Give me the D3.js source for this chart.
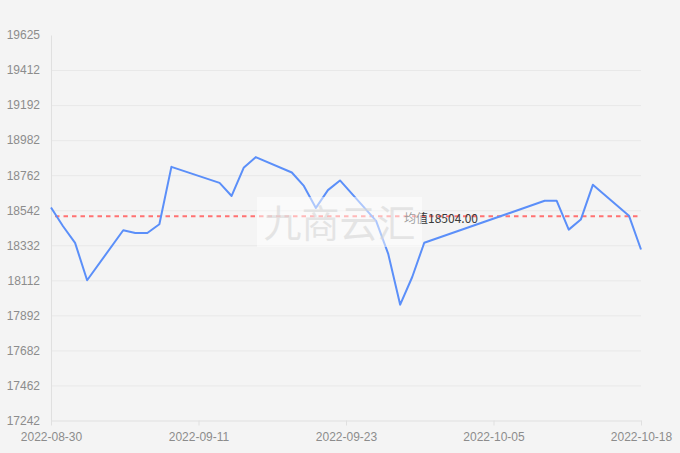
<!DOCTYPE html>
<html>
<head>
<meta charset="utf-8">
<script src="https://cdn.jsdelivr.net/npm/d3@7"></script>
<style>
  html, body { margin: 0; padding: 0; background: #f4f4f4; }
  svg { display: block; font-family: "Noto Sans", "Noto Sans CJK SC", sans-serif; }
</style>
</head>
<body>
<svg id="chart" width="680" height="453"></svg>
<script>
const dates = ["2022-08-30","2022-08-31","2022-09-01","2022-09-02","2022-09-05","2022-09-06","2022-09-07","2022-09-08","2022-09-09",
  "2022-09-13","2022-09-14","2022-09-15","2022-09-16","2022-09-19","2022-09-20","2022-09-21","2022-09-22","2022-09-23",
  "2022-09-26","2022-09-27","2022-09-28","2022-09-29","2022-09-30","2022-10-10","2022-10-11","2022-10-12","2022-10-13",
  "2022-10-14","2022-10-17","2022-10-18"];
const values = [18559,18443,18340,18109,18418,18401,18401,18455,18810,
  18711,18630,18804,18870,18775,18692,18556,18666,18726,
  18476,18274,17958,18129,18341,18600,18600,18422,18484,
  18699,18508,18299];
const meanValue = 18504;
const meanLabel = "均值18504.00";
const yDomain = [17242, 19625];
const yTickLabels = ["17242","17462","17682","17892","18112","18332","18542","18762","18982","19192","19412","19625"];
const xDomain = ["2022-08-30","2022-10-18"];
const xTickLabels = ["2022-08-30","2022-09-11","2022-09-23","2022-10-05","2022-10-18"];
const watermark = "九商云汇";

const parse = d3.timeParse("%Y-%m-%d");
const svg = d3.select("#chart");
const L = 51, R = 641, T = 35, B = 420.5;

const x = d3.scaleTime().domain(xDomain.map(parse)).range([L, R]);
const y = d3.scaleLinear().domain(yDomain).range([B, T]);

const yTicks = yTickLabels.map((_, i) => yDomain[0] + (yDomain[1] - yDomain[0]) * i / (yTickLabels.length - 1));
const xd = x.domain();
const xTicks = xTickLabels.map((_, i) => new Date(+xd[0] + (xd[1] - xd[0]) * i / (xTickLabels.length - 1)));

svg.append("rect").attr("width", 680).attr("height", 453).attr("fill", "#f4f4f4");

// grid lines
const grid = svg.append("g").attr("transform", `translate(${L},0)`)
  .call(d3.axisLeft(y).tickValues(yTicks.slice(1, -1)).tickSize(-(R - L)).tickFormat(""));
grid.select(".domain").remove();
grid.selectAll("line").attr("stroke", "#e8e8e8").attr("stroke-width", 1);

// y axis
const ya = svg.append("g").attr("transform", `translate(${L},0)`)
  .call(d3.axisLeft(y).tickValues(yTicks).tickSize(0).tickPadding(11)
    .tickFormat((d, i) => yTickLabels[i]));
ya.select(".domain").attr("stroke", "#e0e0e0");
ya.selectAll("text").attr("fill", "#8c8c8c").style("font-size", "12px");

// x axis
const xa = svg.append("g").attr("transform", `translate(0,${B})`)
  .call(d3.axisBottom(x).tickValues(xTicks).tickSize(5).tickSizeOuter(0).tickPadding(7)
    .tickFormat((d, i) => xTickLabels[i]));
xa.select(".domain").attr("stroke", "#e0e0e0");
xa.selectAll("line").attr("stroke", "#e0e0e0");
xa.selectAll("text").attr("fill", "#8c8c8c").style("font-size", "12px");

// mean line
svg.append("line")
  .attr("x1", L).attr("x2", R)
  .attr("y1", y(meanValue)).attr("y2", y(meanValue))
  .attr("stroke", "#ff7272").attr("stroke-width", 2)
  .attr("stroke-dasharray", "4.5,4").attr("stroke-dashoffset", 4.5);

// data line
const data = dates.map((d, i) => ({ date: parse(d), value: values[i] }));
svg.append("path").datum(data)
  .attr("fill", "none").attr("stroke", "#5b8ff9").attr("stroke-width", 2)
  .attr("stroke-linejoin", "round")
  .attr("d", d3.line().x(d => x(d.date)).y(d => y(d.value)));

// mean label
svg.append("text")
  .attr("x", 404).attr("y", y(meanValue) + 7)
  .attr("fill", "#3a3a3a").style("font-size", "12px")
  .style("font-family", "'Noto Sans CJK SC', 'Noto Sans', sans-serif")
  .text(meanLabel);

// watermark
const wm = svg.append("g");
wm.append("rect").attr("x", 257).attr("y", 197).attr("width", 165).attr("height", 50)
  .attr("fill", "#ffffff").attr("fill-opacity", 0.5);
wm.append("text").attr("x", 339.5).attr("y", 237).attr("text-anchor", "middle")
  .style("font-family", "'Noto Sans CJK SC', sans-serif").style("font-size", "38px")
  .attr("fill", "#d6d6d6").attr("fill-opacity", 0.6)
  .text(watermark);
</script>
</body>
</html>
